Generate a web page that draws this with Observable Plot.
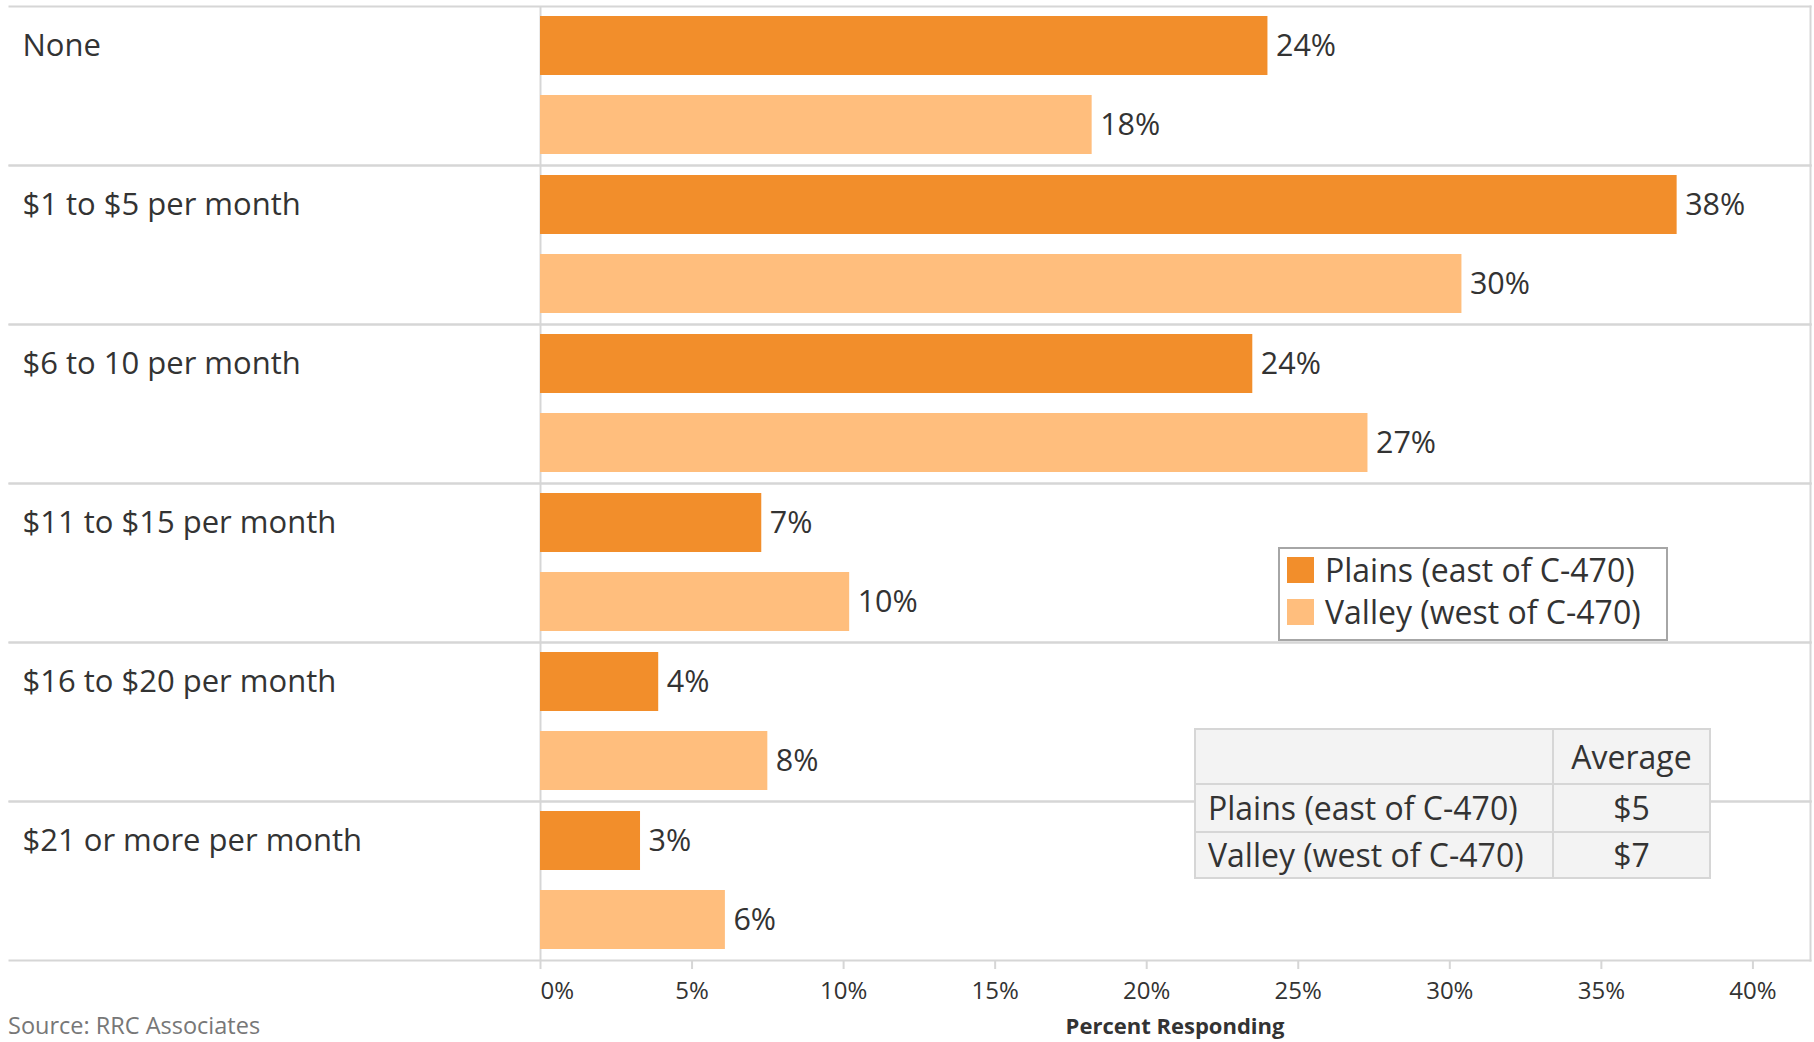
<!DOCTYPE html>
<html><head><meta charset="utf-8">
<script src="https://cdn.jsdelivr.net/npm/d3@7"></script>
<script src="https://cdn.jsdelivr.net/npm/@observablehq/plot@0.6"></script>
<style>
  body { margin: 0; background: #fff; font-family: "Open Sans", Lato, sans-serif; color: #333; }
  #wrap { position: relative; width: 1814px; height: 1042px; overflow: hidden; }
  #wrap svg { position: absolute; left: 0; top: 0; overflow: visible; }
  .legend { position: absolute; left: 1278px; top: 547px; width: 386px; height: 86px; border: 2px solid #a6a6a6; background: #fff; padding-bottom: 4px; }
  .legend .row { display: flex; align-items: center; height: 42px; font-size: 32px; line-height: 1; white-space: nowrap; }
  .legend .sw { width: 27px; height: 26px; margin-left: 7px; margin-right: 11px; flex: none; }
  table.avg { position: absolute; left: 1194px; top: 728px; border-collapse: collapse; background: #f3f3f3; font-size: 32px; line-height: 1; }
  table.avg td { border: 2px solid #d6d6d6; padding: 0; white-space: nowrap; }
  table.avg td.name { width: 344px; padding-left: 12px; }
  table.avg td.val { width: 155px; text-align: center; }
  .xlabel { position: absolute; left: 1175px; top: 1014px; transform: translateX(-50%); font-weight: bold; font-size: 22px; line-height: 1; white-space: nowrap; }
  .source { position: absolute; left: 8px; top: 1015px; font-size: 23.5px; color: #777; line-height: 20px; white-space: nowrap; }
</style></head>
<body><div id="wrap"></div>
<script>
const categories = ["None", "$1 to $5 per month", "$6 to 10 per month", "$11 to $15 per month", "$16 to $20 per month", "$21 or more per month"];
const seriesNames = ["Plains (east of C-470)", "Valley (west of C-470)"];
const seriesColors = ["#F28E2B", "#FFBE7D"];
const plainsValues = [24.0, 37.5, 23.5, 7.3, 3.9, 3.3];
const valleyValues = [18.2, 30.4, 27.3, 10.2, 7.5, 6.1];
const xTicks = [0, 5, 10, 15, 20, 25, 30, 35, 40];
const xMax = 41.9;
const averageHeader = "Average";
const averageValues = ["$5", "$7"];
const xLabel = "Percent Responding";
const sourceText = "Source: RRC Associates";

const data = [];
categories.forEach((c, i) => {
  data.push({category: c, series: seriesNames[0], value: plainsValues[i]});
  data.push({category: c, series: seriesNames[1], value: valleyValues[i]});
});

const grid = "#d6d6d6";
const fmt = d => d + "%";
const axisCommon = {tickFormat: fmt, tickSize: 9, tickPadding: 12, fontSize: 24, stroke: grid, fill: "#333", strokeWidth: 2, label: null};

const chart = Plot.plot({
  width: 1814, height: 1042,
  marginTop: 6, marginBottom: 82, marginLeft: 9, marginRight: 4,
  style: {fontFamily: "'Open Sans', Lato, sans-serif", background: "transparent", overflow: "visible", color: "#333"},
  x: {domain: [0, xMax], range: [540, 1810], axis: null, label: null},
  y: {domain: seriesNames, paddingInner: 0.25, paddingOuter: 0.12, axis: null},
  fy: {domain: categories, padding: 0, axis: null},
  color: {domain: seriesNames, range: seriesColors},
  marks: [
    Plot.frame({anchor: "top", stroke: grid, strokeWidth: 2}),
    Plot.frame({anchor: "bottom", stroke: grid, strokeWidth: 2}),
    Plot.frame({anchor: "right", stroke: grid, strokeWidth: 2}),
    Plot.ruleX([0], {stroke: grid, strokeWidth: 2}),
    Plot.barX(data, {x: "value", y: "series", fy: "category", fill: "series"}),
    Plot.text(data, {x: "value", y: "series", fy: "category", text: d => fmt(Math.round(d.value)), textAnchor: "start", dx: 8, fontSize: 30.5, fill: "#333"}),
    Plot.text(categories, {fy: d => d, text: d => d, frameAnchor: "top-left", textAnchor: "start", lineAnchor: "middle", dx: 13, dy: 40, fontSize: 31, fill: "#333"}),
    Plot.axisX(xTicks.slice(0, 1), {...axisCommon, textAnchor: "start"}),
    Plot.axisX(xTicks.slice(1), {...axisCommon})
  ]
});

const wrap = document.getElementById("wrap");
wrap.appendChild(chart);

// Legend
const legend = document.createElement("div");
legend.className = "legend";
seriesNames.forEach((n, i) => {
  const row = document.createElement("div");
  row.className = "row";
  const sw = document.createElement("div");
  sw.className = "sw";
  sw.style.background = seriesColors[i];
  const t = document.createElement("span");
  t.textContent = n;
  row.appendChild(sw); row.appendChild(t);
  legend.appendChild(row);
});
wrap.appendChild(legend);

// Average table
const table = document.createElement("table");
table.className = "avg";
const rowHeights = [55, 48, 46];
const rows = [["", averageHeader]].concat(seriesNames.map((n, i) => [n, averageValues[i]]));
rows.forEach((r, i) => {
  const tr = document.createElement("tr");
  tr.style.height = rowHeights[i] + "px";
  const a = document.createElement("td"); a.className = "name"; a.textContent = r[0];
  const b = document.createElement("td"); b.className = "val"; b.textContent = r[1];
  tr.appendChild(a); tr.appendChild(b);
  table.appendChild(tr);
});
wrap.appendChild(table);

const xl = document.createElement("div");
xl.className = "xlabel"; xl.textContent = xLabel;
wrap.appendChild(xl);
const src = document.createElement("div");
src.className = "source"; src.textContent = sourceText;
wrap.appendChild(src);
</script>
</body></html>
